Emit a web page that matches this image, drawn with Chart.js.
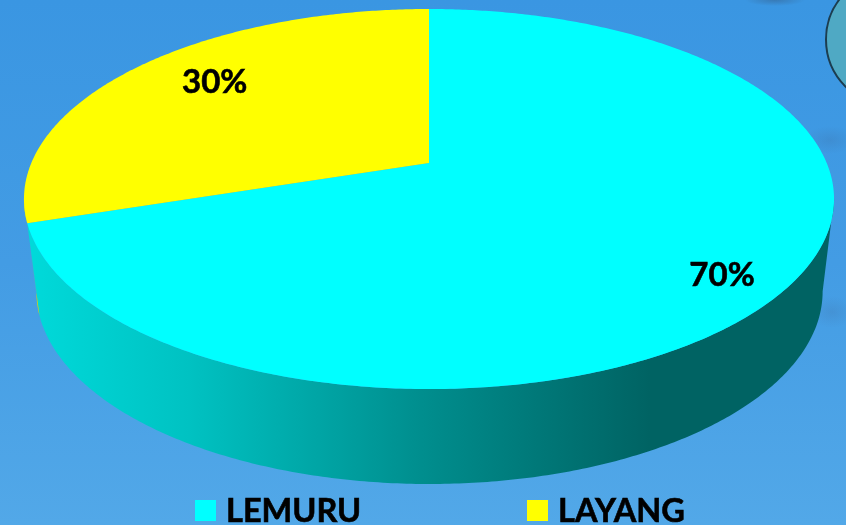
<!DOCTYPE html>
<html>
<head>
<meta charset="utf-8">
<title>Lemuru / Layang</title>
<script src="https://cdn.jsdelivr.net/npm/chart.js@4"></script>
<style>
  html, body { margin: 0; padding: 0; }
  body {
    position: relative; width: 846px; height: 525px; overflow: hidden;
    background:
      radial-gradient(ellipse 26px 14px at 830px 140px, rgba(60,100,150,.22), transparent),
      radial-gradient(ellipse 22px 16px at 832px 312px, rgba(60,100,150,.20), transparent),
      radial-gradient(ellipse 30px 6px at 775px 0px, rgba(50,70,100,.35), transparent),
      linear-gradient(180deg, #3a96e2 0%, #439ce4 50%, #52a8e8 100%);
  }
  #badge {
    position: absolute; left: 825px; top: -28px; width: 135px; height: 135px;
    border-radius: 50%; box-sizing: border-box;
    border: 2px solid #1c3d50; background: #4fa9c4;
  }
  #chart { position: absolute; left: 0; top: 0; }
  .legend-item {
    position: absolute; top: 489px; height: 40px; display: flex; align-items: center;
    font: bold 32.5px Lato, sans-serif; color: #000; white-space: nowrap;
    -webkit-text-stroke: 0.6px #000;
  }
  .legend-item i { display: block; width: 21px; height: 21px; margin-right: 10px; position: relative; top: 1px; }
</style>
</head>
<body>
<div id="badge"></div>
<canvas id="chart" width="846" height="525"></canvas>

<script>
const categories = ['LEMURU', 'LAYANG'];
const shares = [70, 30];
const sliceColors = ['#00ffff', '#ffff00'];
const legendLeft = [195, 527];

// Perspective of the tilted disc: unit circle (u, v) -> screen. v = 1 is the front rim.
const TILT = -0.1895;
const topPlane = { cx: 429, cy: 163, a: 397.7, b: 183.2 };
const basePlane = { cx: 429.5, cy: 255, a: 386, b: 185.6 };
const project = (plane, u, v) => {
  const d = 1 + TILT * v;
  return [plane.cx + plane.a * u / d, plane.cy + plane.b * v / d];
};
// t is measured clockwise from the top of the pie, chart.js starts at -PI/2.
const rimPoint = (plane, t, r = 1) => project(plane, Math.sin(t) * r, -Math.cos(t) * r);

// 3D labels sit slightly off the slice's middle, as in the original.
const labelSpot = [{ r: 0.86, shift: 0.068 }, { r: 0.76, shift: 0.058 }];

const sampleAngles = (from, to) => {
  const steps = Math.max(2, Math.ceil((to - from) / 0.01));
  return Array.from({ length: steps + 1 }, (_, i) => from + (to - from) * i / steps);
};

const tracePoints = (ctx, points) => {
  points.forEach(([x, y], i) => (i ? ctx.lineTo(x, y) : ctx.moveTo(x, y)));
};

const wallGradient = (ctx, color) => {
  const rgb = [1, 3, 5].map(i => parseInt(color.slice(i, i + 2), 16));
  const shade = f => `rgb(${rgb.map(c => Math.round(c * f)).join(',')})`;
  const g = ctx.createLinearGradient(35, 0, 650, 0);
  g.addColorStop(0, shade(0.85));
  g.addColorStop(0.25, shade(0.76));
  g.addColorStop(0.62, shade(0.56));
  g.addColorStop(1, shade(0.39));
  return g;
};

const pie3d = {
  id: 'pie3d',
  beforeDatasetsDraw(chart) {
    const { ctx } = chart;
    const arcs = chart.getDatasetMeta(0).data;
    const total = shares.reduce((a, b) => a + b, 0);
    const spans = arcs.map(arc => [arc.startAngle + Math.PI / 2, arc.endAngle + Math.PI / 2]);

    // Only the front of the wall shows: between the two tangent points of the rim.
    const frontFrom = Math.PI - Math.acos(-TILT);
    const frontTo = Math.PI + Math.acos(-TILT);
    spans.forEach(([start, end], i) => {
      const from = Math.max(start, frontFrom);
      const to = Math.min(end, frontTo);
      if (to <= from) return;
      const angles = sampleAngles(from, to);
      ctx.beginPath();
      tracePoints(ctx, [
        ...angles.map(t => rimPoint(topPlane, t)),
        ...angles.reverse().map(t => rimPoint(basePlane, t))
      ]);
      ctx.closePath();
      ctx.fillStyle = wallGradient(ctx, sliceColors[i]);
      ctx.fill();
    });

    spans.forEach(([start, end], i) => {
      ctx.beginPath();
      tracePoints(ctx, [project(topPlane, 0, 0), ...sampleAngles(start, end).map(t => rimPoint(topPlane, t))]);
      ctx.closePath();
      ctx.fillStyle = sliceColors[i];
      ctx.fill();
    });

    ctx.save();
    ctx.font = 'bold 33px Lato, sans-serif';
    ctx.fillStyle = '#000';
    ctx.strokeStyle = '#000';
    ctx.lineWidth = 0.6;
    ctx.textAlign = 'center';
    ctx.textBaseline = 'middle';
    spans.forEach(([start, end], i) => {
      const [x, y] = rimPoint(topPlane, (start + end) / 2 + labelSpot[i].shift, labelSpot[i].r);
      const text = Math.round(shares[i] / total * 100) + '%';
      ctx.fillText(text, x, y);
      ctx.strokeText(text, x, y);
    });
    ctx.restore();
    return false;
  }
};

const chart = new Chart(document.getElementById('chart'), {
  type: 'pie',
  data: {
    labels: categories,
    datasets: [{ data: shares, backgroundColor: sliceColors, borderWidth: 0 }]
  },
  options: {
    responsive: false,
    animation: false,
    events: [],
    plugins: { legend: { display: false }, tooltip: { enabled: false } }
  },
  plugins: [pie3d]
});

// Legend items are spaced far apart, so plain HTML is easier than the built-in one.
categories.forEach((name, i) => {
  document.body.insertAdjacentHTML('beforeend',
    `<div class="legend-item" style="left:${legendLeft[i]}px"><i style="background:${sliceColors[i]}"></i>${name}</div>`);
});
</script>
</body>
</html>
